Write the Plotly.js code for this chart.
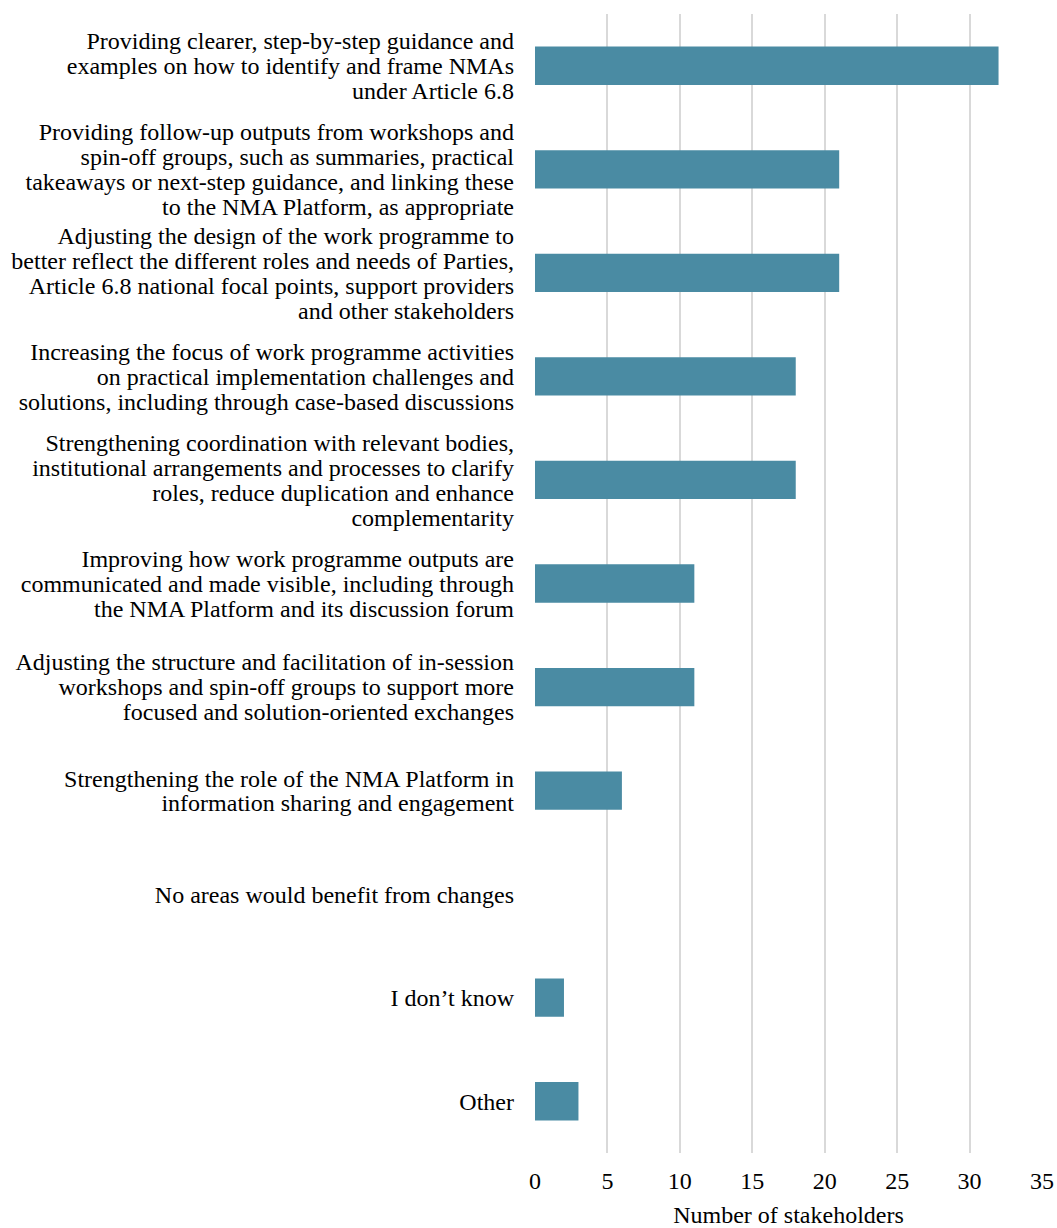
<!DOCTYPE html>
<html>
<head>
<meta charset="utf-8">
<script src="https://cdn.plot.ly/plotly-3.0.1.min.js"></script>
<style>html,body{margin:0;padding:0;background:#fff;}#chart{width:1057px;height:1228px;}</style>
</head>
<body>
<div id="chart"></div>
<script>
const categories = [
  "Providing clearer, step-by-step guidance and<br>examples on how to identify and frame NMAs<br>under Article 6.8",
  "Providing follow-up outputs from workshops and<br>spin-off groups, such as summaries, practical<br>takeaways or next-step guidance, and linking these<br>to the NMA Platform, as appropriate",
  "Adjusting the design of the work programme to<br>better reflect the different roles and needs of Parties,<br>Article 6.8 national focal points, support providers<br>and other stakeholders",
  "Increasing the focus of work programme activities<br>on practical implementation challenges and<br>solutions, including through case-based discussions",
  "Strengthening coordination with relevant bodies,<br>institutional arrangements and processes to clarify<br>roles, reduce duplication and enhance<br>complementarity",
  "Improving how work programme outputs are<br>communicated and made visible, including through<br>the NMA Platform and its discussion forum",
  "Adjusting the structure and facilitation of in-session<br>workshops and spin-off groups to support more<br>focused and solution-oriented exchanges",
  "Strengthening the role of the NMA Platform in<br>information sharing and engagement",
  "No areas would benefit from changes",
  "I don\u2019t know",
  "Other"
];
const values = [32, 21, 21, 18, 18, 11, 11, 6, 0, 2, 3];
const xTicks = [0, 5, 10, 15, 20, 25, 30, 35];

const font = "'Liberation Serif', 'Times New Roman', serif";
const FS = 24;
const LINE_EM = 1.04;

function tightenLabels() {
  document.querySelectorAll('#chart .ytick text').forEach(function (t) {
    const lines = t.querySelectorAll('tspan.line');
    if (lines.length < 2) return;
    const b0 = t.getBBox();
    const c0 = b0.y + b0.height / 2;
    lines.forEach(function (ln, i) { ln.setAttribute('dy', (i * LINE_EM) + 'em'); });
    const b1 = t.getBBox();
    const c1 = b1.y + b1.height / 2;
    const d = c0 - c1;
    const ty = parseFloat(t.getAttribute('y') || '0');
    t.setAttribute('y', ty + d);
    lines.forEach(function (ln) {
      const ly = ln.getAttribute('y');
      if (ly !== null) ln.setAttribute('y', parseFloat(ly) + d);
    });
  });
}

Plotly.newPlot('chart', [{
  type: 'bar',
  orientation: 'h',
  x: values,
  y: categories,
  marker: {color: '#4A8BA3', line: {width: 0}},
  hoverinfo: 'none'
}], {
  width: 1057,
  height: 1228,
  margin: {l: 535, r: 15, t: 14, b: 75},
  paper_bgcolor: '#fff',
  plot_bgcolor: '#fff',
  bargap: 0.63,
  showlegend: false,
  font: {family: font, size: FS, color: '#000'},
  xaxis: {
    range: [0, 35],
    tickvals: xTicks,
    ticktext: xTicks.map(String),
    showgrid: true,
    gridcolor: '#d9d9d9',
    gridwidth: 2,
    zeroline: false,
    showline: false,
    ticks: '',
    ticklabelstandoff: 11,
    tickfont: {family: font, size: FS, color: '#000'},
    title: {text: 'Number of stakeholders', font: {family: font, size: FS, color: '#000'}, standoff: 14}
  },
  yaxis: {
    autorange: 'reversed',
    showgrid: false,
    zeroline: false,
    showline: false,
    ticks: '',
    ticklabelstandoff: 20,
    tickfont: {family: font, size: FS, color: '#000'},
    automargin: false
  }
}, {displayModeBar: false, staticPlot: true}).then(tightenLabels);
</script>
</body>
</html>
